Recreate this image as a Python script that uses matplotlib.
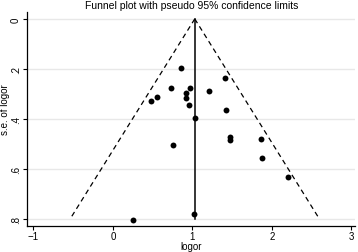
import numpy as np
import matplotlib
matplotlib.use("Agg")
import matplotlib.pyplot as plt

plt.rcParams['font.family'] = ['Liberation Sans', 'DejaVu Sans']

# datos del funnel plot (logor, error estandar)
logor = [0.854, 1.408, 0.731, 0.975, 1.215, 0.921, 0.551, 0.921, 0.483, 0.963,
         1.425, 1.034, 1.467, 1.471, 1.862, 0.757, 1.870, 2.203, 1.025, 0.252]
se = [0.197, 0.237, 0.276, 0.277, 0.289, 0.297, 0.313, 0.316, 0.328, 0.343,
      0.363, 0.397, 0.471, 0.484, 0.481, 0.503, 0.557, 0.633, 0.779, 0.803]
centro = 1.03
se_max = 0.8
xticks = [-1, 0, 1, 2, 3]
yticks = [0, 0.2, 0.4, 0.6, 0.8]
yticklabels = ["0", ".2", ".4", ".6", ".8"]

fig = plt.figure(figsize=(3.58, 2.53), dpi=100)
ax = fig.add_axes([0.0745, 0.103, 0.918, 0.846])

for y in yticks:
    ax.axhline(y, color="#e8e8e8", lw=1.0, zorder=0)

# limites del 95%
s = np.array([0, se_max])
ax.plot(centro - 1.96 * s, s, color="black", ls=(0, (4, 3)), lw=0.9)
ax.plot(centro + 1.96 * s, s, color="black", ls=(0, (4, 3)), lw=0.9)
ax.plot([centro, centro], [0, se_max], color="black", lw=1.1)

ax.scatter(logor, se, s=18, color="black", zorder=3, linewidths=0)

ax.set_xlim(-1.085, 3.05)
ax.set_ylim(0.828, -0.028)
ax.set_xticks(xticks)
ax.set_yticks(yticks)
ax.set_yticklabels(yticklabels, rotation=90, va="center")
ax.tick_params(labelsize=7, length=3, width=0.8, pad=1)
for sp in ["top", "right"]:
    ax.spines[sp].set_visible(False)
ax.spines["left"].set_linewidth(0.9)
ax.spines["bottom"].set_linewidth(0.9)

ax.set_xlabel("logor", fontsize=7)
ax.xaxis.set_label_coords(0.5, -0.072)
ax.set_ylabel("s.e. of logor", fontsize=7)
ax.yaxis.set_label_coords(-0.05, 0.55)
fig.suptitle("Funnel plot with pseudo 95% confidence limits", fontsize=7.5,
             x=0.535, y=0.995)

fig.savefig("out.png", dpi=100, facecolor="white")
